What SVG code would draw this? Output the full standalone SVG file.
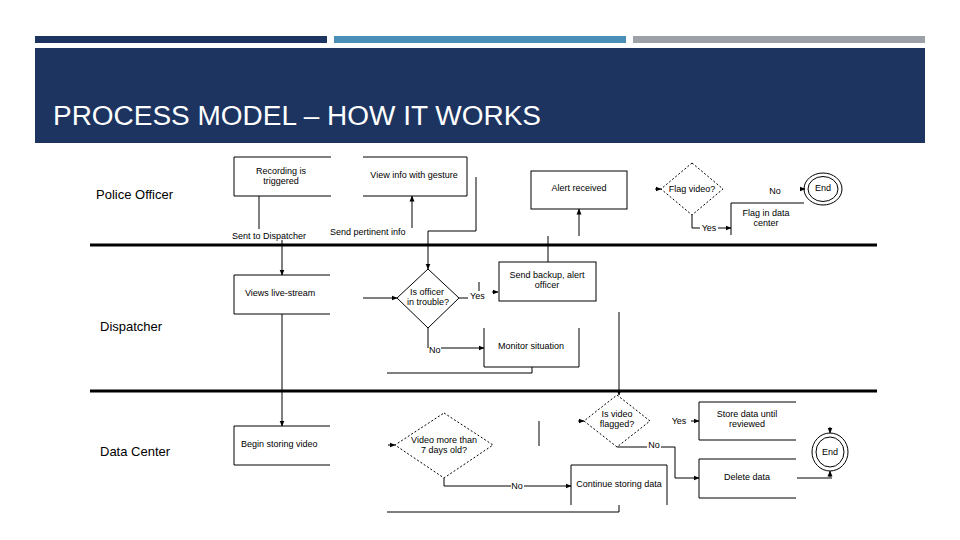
<svg xmlns="http://www.w3.org/2000/svg" width="960" height="540" viewBox="0 0 960 540">
<defs>
<marker id="ar" markerWidth="6" markerHeight="6" refX="5.5" refY="3" orient="auto" markerUnits="userSpaceOnUse">
<path d="M0,0.5 L6,3 L0,5.5 Z" fill="#000"/>
</marker>
<style>
.t{font-family:"Liberation Sans",Arial,sans-serif;font-size:9px;fill:#000;text-anchor:middle}
.tl{font-family:"Liberation Sans",Arial,sans-serif;font-size:9px;fill:#000}
.lane{font-family:"Liberation Sans",Arial,sans-serif;font-size:13px;fill:#000}
.s{fill:none;stroke:#000;stroke-width:1}
.d{fill:#fff;stroke:#000;stroke-width:1;stroke-dasharray:2,2}
.c{fill:none;stroke:#000;stroke-width:1;marker-end:url(#ar)}
.sep{stroke:#000;stroke-width:3}
</style>
</defs>
<rect width="960" height="540" fill="#fff"/>
<g id="header">
<rect x="35" y="36" width="292" height="7" fill="#1d3461"/>
<rect x="334" y="36" width="292" height="7" fill="#4a8fb8"/>
<rect x="633" y="36" width="292" height="7" fill="#9ca1a7"/>
<rect x="35" y="48" width="890" height="95" fill="#1d3461"/>
<text x="53" y="125" font-family="'Liberation Sans',Arial,sans-serif" font-size="27" fill="#fff" textLength="488" lengthAdjust="spacingAndGlyphs">PROCESS MODEL – HOW IT WORKS</text>
</g>
<g id="lanes">
<line class="sep" x1="90" y1="245" x2="877" y2="245"/>
<line class="sep" x1="90" y1="391" x2="877" y2="391"/>
<text class="lane" x="96" y="199">Police Officer</text>
<text class="lane" x="100" y="331">Dispatcher</text>
<text class="lane" x="100" y="456">Data Center</text>
</g>
<g id="recording">
<path class="s" d="M331,157 H234 V196 H331"/>
<text class="t" x="281" y="174">Recording is</text>
<text class="t" x="281" y="184">triggered</text>
</g>
<g id="viewinfo">
<path class="s" d="M363,157 H467 V196 H363"/>
<text class="t" x="414" y="178">View info with gesture</text>
</g>
<g id="alert">
<rect class="s" x="531" y="171" width="96" height="38"/>
<text class="t" x="579" y="191">Alert received</text>
</g>
<g id="flagvideo">
<polygon class="d" points="692,163 723,189 692,215 661,189"/>
<text class="t" x="692" y="192">Flag video?</text>
</g>
<g id="flagdc">
<path class="s" d="M804,203 H731 V235"/>
<text class="t" x="766" y="216">Flag in data</text>
<text class="t" x="766" y="226">center</text>
</g>
<g id="end1">
<ellipse class="s" cx="823" cy="189" rx="19" ry="16"/>
<ellipse class="s" cx="823" cy="189" rx="15" ry="12.5"/>
<text class="t" x="823" y="191">End</text>
</g>
<g id="viewslive">
<path class="s" d="M330,275 H234 V314 H330"/>
<text class="tl" x="245" y="296">Views live-stream</text>
</g>
<g id="trouble">
<polygon class="s" points="428,269 459,298 428,328 397,298" fill="#fff"/>
<text class="t" x="427" y="295">Is officer</text>
<text class="t" x="428" y="305">in trouble?</text>
</g>
<g id="backup">
<rect class="s" x="499" y="262" width="97" height="39"/>
<text class="t" x="547" y="278">Send backup, alert</text>
<text class="t" x="547" y="288">officer</text>
</g>
<g id="monitor">
<path class="s" d="M484,328 V367 H579 V328"/>
<text class="t" x="531" y="349">Monitor situation</text>
</g>
<g id="beginstore">
<path class="s" d="M330,426 H234 V465 H330"/>
<text class="tl" x="241" y="447">Begin storing video</text>
</g>
<g id="sevendays">
<polygon class="d" points="444,413 493,445 444,478 395,445"/>
<text class="t" x="444" y="443">Video more than</text>
<text class="t" x="444" y="453">7 days old?</text>
</g>
<g id="continue">
<path class="s" d="M571,505 V465 H667 V505"/>
<text class="t" x="619" y="487">Continue storing data</text>
</g>
<g id="flagged">
<polygon class="d" points="617,395 650,421 617,447 584,421"/>
<text class="t" x="617" y="417">Is video</text>
<text class="t" x="617" y="427">flagged?</text>
</g>
<g id="storedata">
<path class="s" d="M796,402 H699 V440 H796"/>
<text class="t" x="747" y="417">Store data until</text>
<text class="t" x="747" y="427">reviewed</text>
</g>
<g id="deletedata">
<path class="s" d="M796,459 H699 V498 H796"/>
<text class="t" x="747" y="480">Delete data</text>
</g>
<g id="end2">
<ellipse class="s" cx="830" cy="452" rx="18" ry="19"/>
<ellipse class="s" cx="830" cy="452" rx="14" ry="15"/>
<text class="t" x="830" y="455">End</text>
</g>
<g id="connectors">
<line class="s" x1="259" y1="196" x2="259" y2="229"/>
<text class="tl" x="232" y="239">Sent to Dispatcher</text>
<line class="c" x1="282" y1="240" x2="282" y2="275"/>
<text class="tl" x="330" y="235">Send pertinent info</text>
<line class="c" x1="412" y1="228" x2="412" y2="196"/>
<path class="c" d="M476,177 V231 H428 V269"/>
<line class="c" x1="579" y1="236" x2="579" y2="209"/>
<line class="s" x1="548" y1="236" x2="548" y2="262"/>
<line class="c" x1="655" y1="189" x2="661" y2="189"/>
<path class="s" d="M692,215 V228 H700"/>
<text class="t" x="709" y="231">Yes</text>
<line class="c" x1="718" y1="228" x2="731" y2="228"/>
<text class="t" x="775" y="194">No</text>
<line class="c" x1="800" y1="189" x2="805" y2="189"/>
<line class="s" x1="282" y1="314" x2="282" y2="391"/>
<line class="c" x1="282" y1="391" x2="282" y2="426"/>
<line class="c" x1="363" y1="298" x2="397" y2="298"/>
<line class="s" x1="459" y1="298" x2="468" y2="298"/>
<text class="tl" x="470" y="299">Yes</text>
<line class="s" x1="479" y1="282" x2="479" y2="291"/>
<line class="c" x1="492" y1="292" x2="498" y2="292"/>
<line class="s" x1="428" y1="328" x2="428" y2="348"/>
<text class="tl" x="429" y="353">No</text>
<line class="c" x1="441" y1="348" x2="484" y2="348"/>
<path class="s" d="M532,367 V373 H387"/>
<line class="c" x1="619" y1="312" x2="619" y2="395"/>
<line class="c" x1="388" y1="445" x2="395" y2="445"/>
<path class="s" d="M444,478 V486 H511"/>
<text class="t" x="517" y="489">No</text>
<line class="c" x1="524" y1="486" x2="571" y2="486"/>
<path class="s" d="M619,505 V512 H387"/>
<line class="s" x1="539" y1="421" x2="539" y2="446"/>
<line class="c" x1="578" y1="421" x2="584" y2="421"/>
<text class="t" x="679" y="424">Yes</text>
<line class="c" x1="691" y1="421" x2="699" y2="421"/>
<path class="s" d="M617,447 H647"/>
<text class="t" x="654" y="448">No</text>
<path class="c" d="M661,447 H675 V478 H699"/>
<line class="s" x1="797" y1="478" x2="832" y2="478"/>
<line class="c" x1="830" y1="427" x2="830" y2="433"/>
<line class="c" x1="830" y1="477" x2="830" y2="471"/>
</g>
</svg>
